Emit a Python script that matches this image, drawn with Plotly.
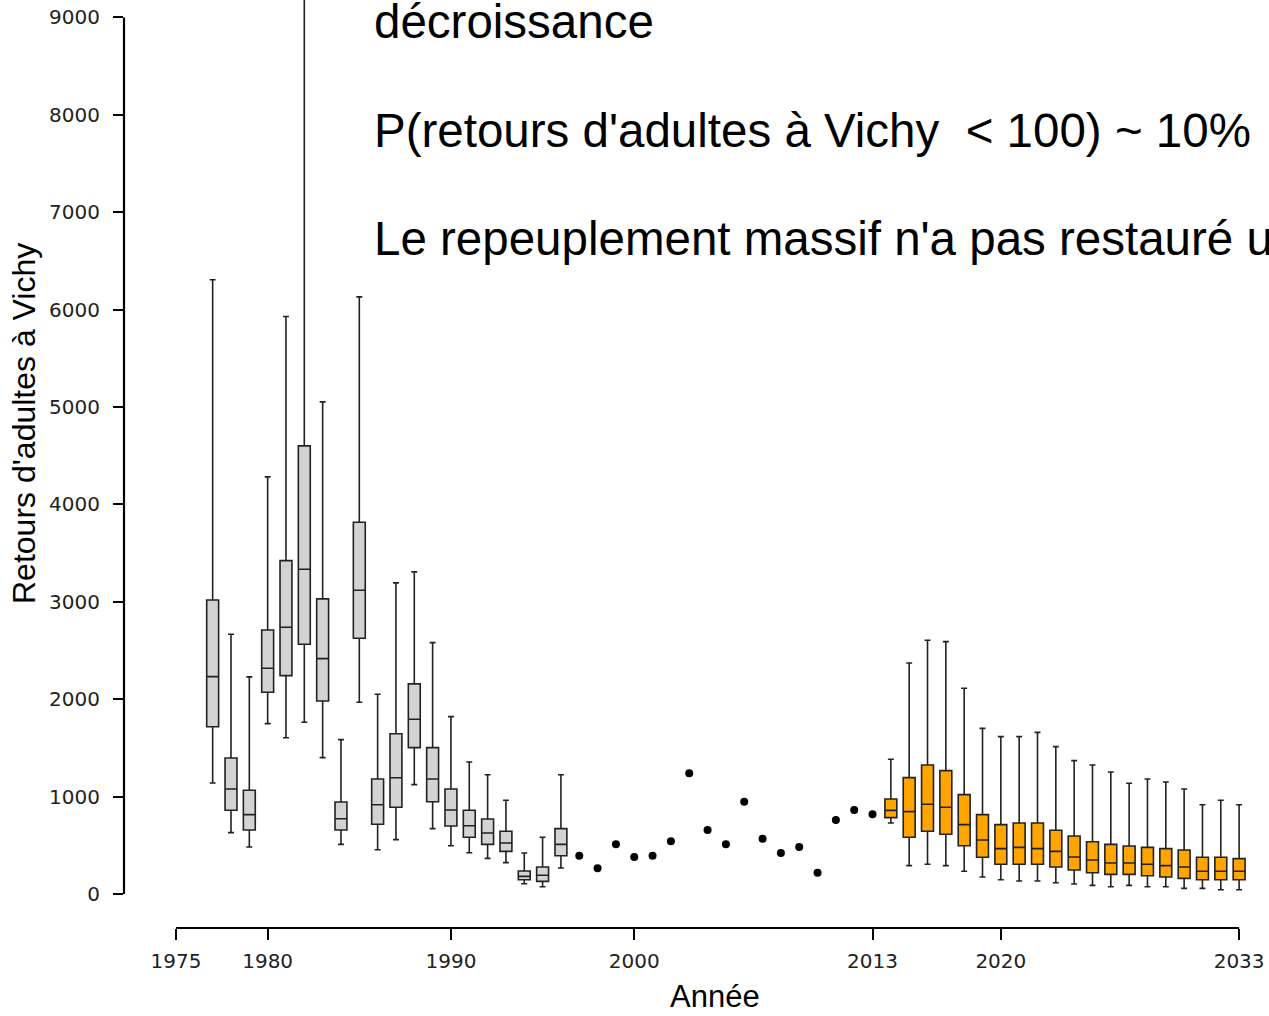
import plotly.graph_objects as go

# ── Data ──────────────────────────────────────────────────────────────────

# observed period (posterior boxplots), 1977-1996
obs_years = list(range(1977, 1997))
obs_low = [1140, 630, 483, 1749, 1605, 1763, 1400, 510, 1969, 455,
           558, 1123, 671, 496, 424, 366, 322, 106, 75, 267]
obs_q1 = [1718, 860, 657, 2071, 2242, 2564, 1982, 657, 2626, 716,
          890, 1503, 948, 698, 582, 510, 438, 147, 130, 393]
obs_med = [2232, 1078, 815, 2318, 2739, 3335, 2417, 773, 3118, 917,
           1194, 1794, 1181, 863, 701, 626, 524, 181, 192, 510]
obs_q3 = [3019, 1397, 1065, 2711, 3423, 4601, 3030, 945, 3817, 1181,
          1646, 2157, 1503, 1078, 860, 770, 644, 236, 277, 671]
obs_high = [6306, 2667, 2229, 4283, 5929, 11000, 5053, 1585, 6131, 2051,
            3194, 3307, 2581, 1821, 1356, 1225, 962, 421, 582, 1225]

# point estimates, 1997-2013
pt_years = list(range(1997, 2014))
pt_vals = [393, 264, 510, 380, 393, 541, 1239, 657, 510, 948,
           568, 421, 483, 219, 760, 863, 818]

# projections, 2014-2033
proj_years = list(range(2014, 2034))
proj_low = [729, 291, 305, 291, 233, 175, 147, 134, 134, 116,
            103, 89, 75, 89, 75, 75, 58, 58, 44, 44]
proj_q1 = [784, 582, 644, 613, 496, 377, 305, 305, 305, 277,
           246, 219, 202, 202, 188, 175, 161, 147, 147, 147]
proj_med = [859, 846, 921, 890, 712, 555, 466, 479, 466, 438,
            380, 349, 318, 318, 305, 291, 277, 233, 233, 233]
proj_q3 = [976, 1195, 1325, 1267, 1020, 815, 712, 729, 729, 654,
           596, 537, 510, 493, 479, 466, 452, 377, 377, 363]
proj_high = [1383, 2372, 2605, 2591, 2112, 1701, 1616, 1616, 1660, 1513,
             1369, 1325, 1253, 1137, 1181, 1150, 1078, 917, 962, 917]

x_ticks = [1975, 1980, 1990, 2000, 2013, 2020, 2033]
y_ticks = [0, 1000, 2000, 3000, 4000, 5000, 6000, 7000, 8000, 9000]

text_lines = [
    "décroissance",
    "P(retours d'adultes à Vichy &nbsp;< 100) ~ 10%",
    "Le repeuplement massif n'a pas restauré une population viable",
]

# ── Figure ────────────────────────────────────────────────────────────────

W, H = 1269, 1016
ML, MB = 124, 88
PW, PH = W - ML, H - MB

fig = go.Figure()

box_line = dict(color="#222222", width=1.6)

fig.add_trace(go.Box(
    x=obs_years, q1=obs_q1, median=obs_med, q3=obs_q3,
    lowerfence=obs_low, upperfence=obs_high,
    width=0.65, whiskerwidth=0.5, boxpoints=False,
    fillcolor="#D3D3D3", line=box_line, hoverinfo="skip",
))

fig.add_trace(go.Scatter(
    x=pt_years, y=pt_vals, mode="markers",
    marker=dict(size=8, color="black"), hoverinfo="skip",
))

fig.add_trace(go.Box(
    x=proj_years, q1=proj_q1, median=proj_med, q3=proj_q3,
    lowerfence=proj_low, upperfence=proj_high,
    width=0.65, whiskerwidth=0.5, boxpoints=False,
    fillcolor="#FFA500", line=box_line, hoverinfo="skip",
))

# R-style detached axis lines
fig.add_shape(type="line", xref="paper", yref="y", x0=0, x1=0,
              y0=y_ticks[0], y1=y_ticks[-1], line=dict(color="black", width=2.2))
fig.add_shape(type="line", xref="x", yref="paper", x0=x_ticks[0], x1=x_ticks[-1],
              y0=0, y1=0, line=dict(color="black", width=2.2))

tick_font = dict(family="DejaVu Sans", size=20, color="#222222")

fig.update_xaxes(
    range=[1972.163, 2034.63], showgrid=False, zeroline=False, showline=False,
    tickmode="array", tickvals=x_ticks, ticks="outside", ticklen=11,
    tickwidth=2, tickcolor="black", tickfont=tick_font, ticklabelstandoff=4,
)
fig.update_yaxes(
    range=[-349, 9179], showgrid=False, zeroline=False, showline=False,
    tickmode="array", tickvals=y_ticks, ticks="outside", ticklen=10,
    tickwidth=2, tickcolor="black", tickfont=tick_font, ticklabelstandoff=9,
)

big_font = dict(family="Liberation Sans, Arial", size=47.5, color="black")
for line, ypx in zip(text_lines, [22, 130, 239]):
    fig.add_annotation(
        text=line, xref="paper", yref="paper",
        x=(372 - ML) / PW, y=1 - ypx / PH, xanchor="left", yanchor="middle",
        showarrow=False, font=big_font,
    )

label_font = dict(family="Liberation Sans, Arial", size=31, color="black")
fig.add_annotation(
    text="Année", xref="paper", yref="paper",
    x=(715 - ML) / PW, y=-(996 - PH) / PH, xanchor="center", yanchor="middle",
    showarrow=False, font=label_font,
)
fig.add_annotation(
    text="Retours d'adultes à Vichy", xref="paper", yref="paper",
    x=(24 - ML) / PW, y=1 - 424 / PH, xanchor="center", yanchor="middle",
    textangle=-90, showarrow=False, font=dict(label_font, size=32),
)

fig.update_layout(
    width=W, height=H,
    margin=dict(l=ML, r=0, t=0, b=MB),
    plot_bgcolor="white", paper_bgcolor="white",
    showlegend=False,
)

# the page's default body margin would shift the figure by 8px
fig.write_html("out.html", config={"displayModeBar": False},
               post_script="document.body.style.margin='0';")
